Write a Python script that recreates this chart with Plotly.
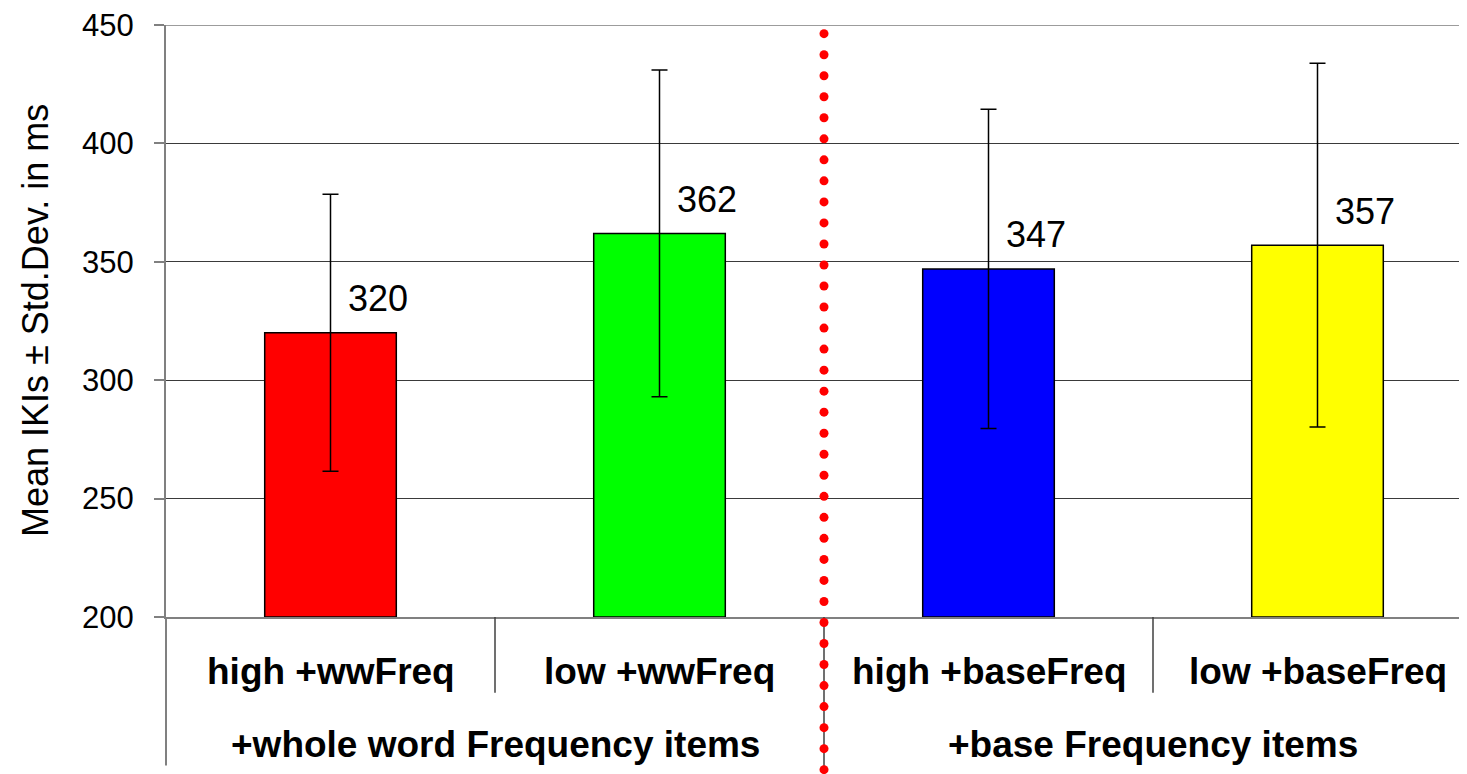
import numpy as np
import plotly.graph_objects as go

# ---- data ----
categories = ["high +wwFreq", "low +wwFreq", "high +baseFreq", "low +baseFreq"]
groups = ["+whole word Frequency items", "+base Frequency items"]
means = [320, 362, 347, 357]
labels = ["320", "362", "347", "357"]
std_devs = [58.5, 69, 67.4, 76.8]
bar_colors = ["#FF0000", "#00FF00", "#0000FF", "#FFFF00"]
y_ticks = [200, 250, 300, 350, 400, 450]

FONT = "Arial, 'Liberation Sans', sans-serif"
# page body has an 8px margin; compensate so the plot lands where the reference has it
OFF = 8
W, H = 1467 - OFF, 774
ML, MT = 166 - OFF, 23 - OFF
plot_bottom = 617 - OFF
MB = H - plot_bottom
plot_h = plot_bottom - MT
plot_w = W - ML
cat_px = 329.0  # pixel width of one category slot

x = np.arange(len(categories))
x_min = -0.5
x_max = x_min + plot_w / cat_px
y_min, y_max = 200, 450

fig = go.Figure()
fig.add_trace(go.Bar(
    x=x, y=[m - y_min for m in means], base=y_min, width=0.4,
    marker=dict(color=bar_colors, line=dict(color="#000000", width=1.5)),
    error_y=dict(type="data", array=std_devs, visible=True,
                 color="#000000", thickness=1.5, width=8),
    showlegend=False, hoverinfo="skip",
))

annotations = []
for xi, m, lab in zip(x, means, labels):
    annotations.append(dict(x=xi, y=m, xref="x", yref="y", text=lab,
                            showarrow=False, xshift=47, yshift=34,
                            font=dict(family=FONT, size=36, color="#000")))
for xi, c in zip(x, categories):
    annotations.append(dict(x=xi, y=-55 / plot_h, xref="x", yref="paper", text="<b>%s</b>" % c,
                            showarrow=False, yanchor="middle",
                            font=dict(family=FONT, size=37, color="#000")))
for gi, g in enumerate(groups):
    gx = (x[2 * gi] + x[2 * gi + 1]) / 2
    annotations.append(dict(x=gx, y=-128 / plot_h, xref="x", yref="paper", text="<b>%s</b>" % g,
                            showarrow=False, yanchor="middle",
                            font=dict(family=FONT, size=37, color="#000")))
annotations.append(dict(x=(35 - 166) / plot_w, y=0.5, xref="paper", yref="paper",
                        text="Mean IKIs ± Std.Dev. in ms", textangle=-90,
                        showarrow=False, xanchor="center", yanchor="middle",
                        font=dict(family=FONT, size=36, color="#000")))

shapes = []
# top gridline (at the upper edge of the value range)
shapes.append(dict(type="line", xref="paper", yref="y", x0=0, x1=1,
                   y0=y_max, y1=y_max, line=dict(color="#3a3a3a", width=1)))
# left axis extension into the label area
shapes.append(dict(type="line", xref="paper", yref="paper", x0=0, x1=0,
                   y0=0, y1=-149 / plot_h, line=dict(color="#808080", width=2)))
# category dividers
div_x = (x[1] + x[2]) / 2
for i in range(len(categories) - 1):
    bx = (x[i] + x[i + 1]) / 2
    depth = -160 / plot_h if i == 1 else -76 / plot_h
    shapes.append(dict(type="line", xref="x", yref="paper", x0=bx, x1=bx,
                       y0=0, y1=depth, line=dict(color="#404040", width=1.5)))

# red dotted divider between the two groups (decoration): round dots every 21px
dot_top_px = 8.7
dot_step_px = 21.1
py = dot_top_px
while py < H - MT + 10:
    yp = 1 - py / plot_h
    shapes.append(dict(type="circle", xref="x", yref="paper",
                       xsizemode="pixel", ysizemode="pixel",
                       xanchor=div_x, yanchor=yp,
                       x0=-4.5, x1=4.5, y0=-4.5, y1=4.5,
                       fillcolor="#FF0000", line=dict(width=0)))
    py += dot_step_px

fig.update_layout(
    width=W, height=H,
    margin=dict(l=ML, r=0, t=MT, b=MB, pad=0),
    plot_bgcolor="#FFFFFF", paper_bgcolor="#FFFFFF",
    font=dict(family=FONT, color="#000"),
    annotations=annotations, shapes=shapes,
)
fig.update_xaxes(range=[x_min, x_max], showticklabels=False, showgrid=False,
                 zeroline=False, showline=True, linecolor="#808080", linewidth=2,
                 ticks="")
fig.update_yaxes(range=[y_min, y_max], tickvals=y_ticks, showgrid=True,
                 gridcolor="#3a3a3a", gridwidth=1, zeroline=False,
                 showline=True, linecolor="#808080", linewidth=2,
                 ticks="outside", ticklen=10, tickcolor="#808080", tickwidth=1.5,
                 tickfont=dict(family=FONT, size=31, color="#000"),
                 ticklabelstandoff=14, ticklabeloverflow="allow")

fig.write_html("out.html")
